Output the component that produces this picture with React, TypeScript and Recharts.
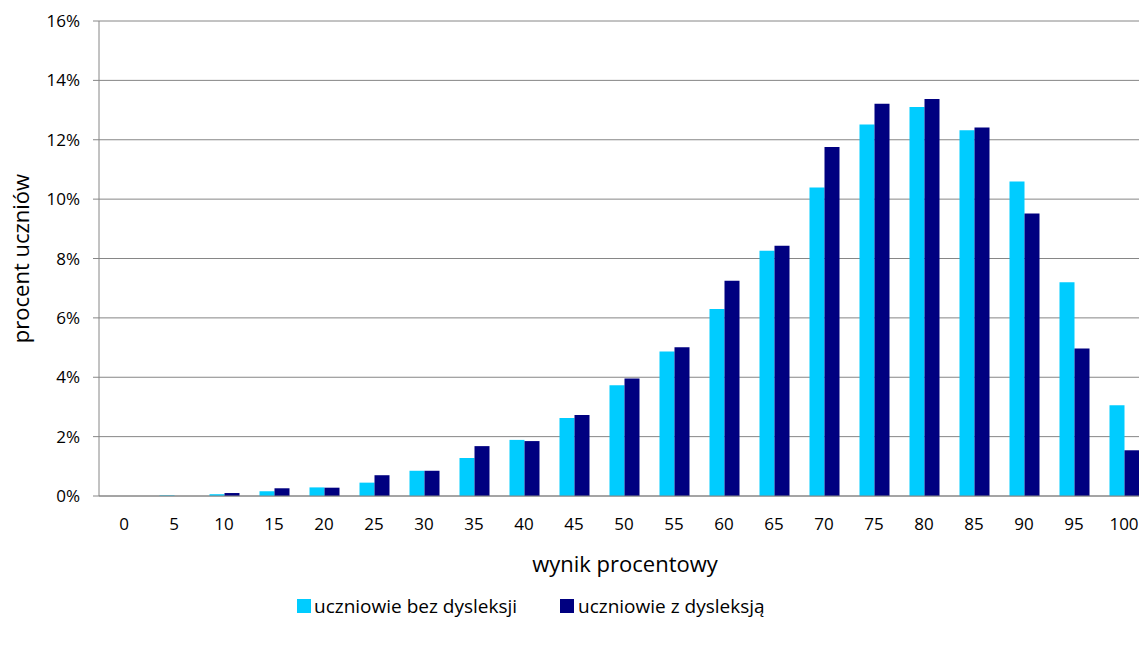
import { Bar, BarChart, CartesianGrid, XAxis, YAxis } from "recharts";

const scores = ["0", "5", "10", "15", "20", "25", "30", "35", "40", "45", "50", "55", "60", "65", "70", "75", "80", "85", "90", "95", "100"];
const bezDysleksji = [0, 0.02, 0.06, 0.16, 0.29, 0.45, 0.85, 1.28, 1.89, 2.63, 3.73, 4.87, 6.3, 8.26, 10.39, 12.51, 13.1, 12.32, 10.59, 7.2, 3.06];
const zDysleksja = [0, 0, 0.1, 0.26, 0.28, 0.7, 0.85, 1.68, 1.85, 2.73, 3.96, 5.01, 7.25, 8.43, 11.76, 13.21, 13.37, 12.41, 9.52, 4.97, 1.54];
const yTicks = [0, 2, 4, 6, 8, 10, 12, 14, 16];

const data = scores.map((score, i) => ({ score, bez: bezDysleksji[i], z: zDysleksja[i] }));

const font = "'Open Sans', sans-serif";
const grey = "#868686";
const light = "#00CCFF";
const dark = "#000080";

export default function App() {
  return (
    <div style={{ position: "absolute", left: 0, top: 0, width: 1139, height: 648, overflow: "hidden", background: "#fff", fontFamily: font }}>
      <BarChart width={1160} height={648} data={data} margin={{ top: 21, right: 11, left: 0, bottom: 0 }} barCategoryGap="21%" barGap={0}>
        <CartesianGrid vertical={false} stroke={grey} strokeWidth={1} />
        <XAxis
          dataKey="score"
          height={152}
          stroke={grey}
          tickLine={false}
          tickSize={0}
          tickMargin={22}
          tick={{ fill: "#000", fontSize: 17, fontFamily: font }}
          interval={0}
          label={({ viewBox }: any) => (
            <text x={viewBox.x + viewBox.width / 2 + 1} y={viewBox.y + 76} textAnchor="middle" fill="#000" fontSize={22} fontFamily={font}>
              wynik procentowy
            </text>
          )}
        />
        <YAxis
          width={99}
          domain={[0, 16]}
          ticks={yTicks}
          stroke={grey}
          tickSize={6}
          tickMargin={13}
          tickFormatter={(v: number) => `${v}%`}
          tick={{ fill: "#000", fontSize: 17, fontFamily: font }}
          label={({ viewBox }: any) => (
            <text
              x={29}
              y={viewBox.y + viewBox.height / 2}
              transform={`rotate(-90, 29, ${viewBox.y + viewBox.height / 2})`}
              textAnchor="middle"
              fill="#000"
              fontSize={22}
              fontFamily={font}
            >
              procent uczniów
            </text>
          )}
        />
        <Bar dataKey="bez" name="uczniowie bez dysleksji" fill={light} isAnimationActive={false} />
        <Bar dataKey="z" name="uczniowie z dysleksją" fill={dark} isAnimationActive={false} />
      </BarChart>
      <div style={{ position: "absolute", top: 592, left: 297, display: "flex", alignItems: "center", fontSize: 19, lineHeight: "28px", color: "#000" }}>
        <span style={{ width: 14, height: 14, background: light, marginRight: 3 }} />
        <span>uczniowie bez dysleksji</span>
      </div>
      <div style={{ position: "absolute", top: 592, left: 560, display: "flex", alignItems: "center", fontSize: 19, lineHeight: "28px", color: "#000" }}>
        <span style={{ width: 14, height: 14, background: dark, marginRight: 4 }} />
        <span>uczniowie z dysleksją</span>
      </div>
    </div>
  );
}
